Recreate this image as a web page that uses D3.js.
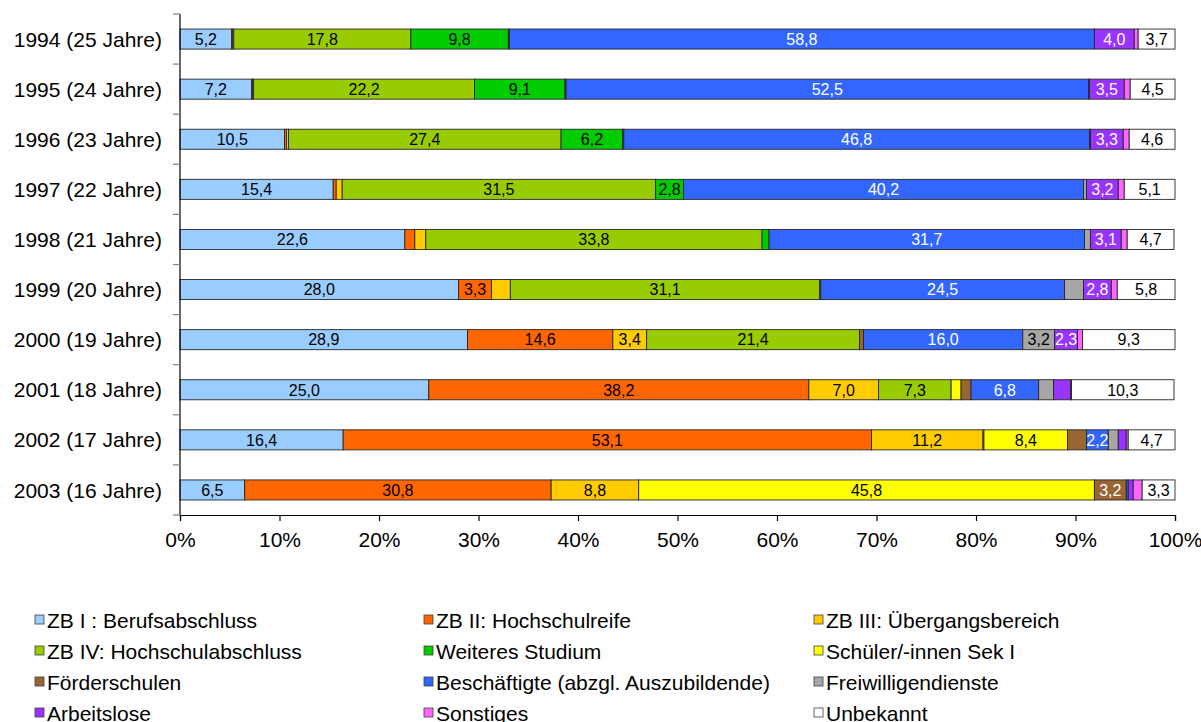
<!DOCTYPE html>
<html>
<head>
<meta charset="utf-8">
<script src="https://cdn.jsdelivr.net/npm/d3@7"></script>
<style>
  body { margin: 0; background: #fff; }
  text { font-family: "Liberation Sans", Arial, sans-serif; }
</style>
</head>
<body>
<script>
// Kategorien (Jahrgang)
var years = ["1994 (25 Jahre)", "1995 (24 Jahre)", "1996 (23 Jahre)", "1997 (22 Jahre)", "1998 (21 Jahre)",
             "1999 (20 Jahre)", "2000 (19 Jahre)", "2001 (18 Jahre)", "2002 (17 Jahre)", "2003 (16 Jahre)"];

// Anteile in % je Jahrgang
var zb1        = [5.2, 7.2, 10.5, 15.4, 22.6, 28.0, 28.9, 25.0, 16.4, 6.5];
var zb2        = [0.1, 0.1, 0.2, 0.3, 1.0, 3.3, 14.6, 38.2, 53.1, 30.8];
var zb3        = [0.1, 0.1, 0.2, 0.6, 1.1, 1.9, 3.4, 7.0, 11.2, 8.8];
var zb4        = [17.8, 22.2, 27.4, 31.5, 33.8, 31.1, 21.4, 7.3, 0.1, 0];
var studium    = [9.8, 9.1, 6.2, 2.8, 0.7, 0, 0, 0, 0, 0];
var sek1       = [0, 0, 0, 0, 0, 0, 0, 1.0, 8.4, 45.8];
var foerder    = [0.1, 0.1, 0.1, 0, 0, 0.1, 0.4, 1.0, 1.9, 3.2];
var besch      = [58.8, 52.5, 46.8, 40.2, 31.7, 24.5, 16.0, 6.8, 2.2, 0.2];
var freiw      = [0, 0.1, 0.1, 0.3, 0.6, 1.9, 3.2, 1.5, 1.0, 0];
var arbeitslos = [4.0, 3.5, 3.3, 3.2, 3.1, 2.8, 2.3, 1.7, 0.8, 0.5];
var sonst      = [0.4, 0.6, 0.6, 0.6, 0.6, 0.6, 0.5, 0.1, 0.2, 0.9];
var unbek      = [3.7, 4.5, 4.6, 5.1, 4.7, 5.8, 9.3, 10.3, 4.7, 3.3];

var seriesNames = ["ZB I : Berufsabschluss", "ZB II: Hochschulreife", "ZB III: Übergangsbereich",
                   "ZB IV: Hochschulabschluss", "Weiteres Studium", "Schüler/-innen Sek I",
                   "Förderschulen", "Beschäftigte (abzgl. Auszubildende)", "Freiwilligendienste",
                   "Arbeitslose", "Sonstiges", "Unbekannt"];
var seriesValues = [zb1, zb2, zb3, zb4, studium, sek1, foerder, besch, freiw, arbeitslos, sonst, unbek];
var colors = ["#99CCFF", "#FF6600", "#FFCC00", "#99CC00", "#00CC00", "#FFFF00",
              "#996633", "#3366FF", "#A6A6A6", "#9933FF", "#FF66FF", "#FFFFFF"];
var labelColors = ["#000", "#000", "#000", "#000", "#000", "#000",
                   "#fff", "#fff", "#000", "#fff", "#000", "#000"];

var xTicks = [0, 10, 20, 30, 40, 50, 60, 70, 80, 90, 100];

var svg = d3.select("body").append("svg").attr("width", 1201).attr("height", 722);

// Plotbereich
var plotLeft = 180, plotRight = 1175, plotTop = 14, plotBottom = 515;

var x = d3.scaleLinear().domain([0, 100]).range([plotLeft, plotRight]);
var y = d3.scaleBand().domain(years).range([plotTop, plotBottom]).paddingInner(0.6).paddingOuter(0.3);

// Tabelle für den Stapel
var table = years.map(function(yr, i) {
  var row = { year: yr };
  seriesNames.forEach(function(s, k) { row[s] = seriesValues[k][i]; });
  return row;
});
var stack = d3.stack().keys(seriesNames)(table);

var fmt = function(v) { return d3.format(".1f")(v).replace(".", ","); };

// Balken
stack.forEach(function(layer, k) {
  var g = svg.append("g");
  layer.forEach(function(d) {
    var v = d[1] - d[0];
    if (v <= 0) return;
    g.append("rect")
      .attr("x", x(d[0]))
      .attr("y", y(d.data.year))
      .attr("width", x(d[1]) - x(d[0]))
      .attr("height", y.bandwidth())
      .style("fill", colors[k])
      .style("stroke", "#262626")
      .style("stroke-width", 0.9);
  });
});

// Datenbeschriftungen
stack.forEach(function(layer, k) {
  layer.forEach(function(d) {
    var v = d[1] - d[0];
    if (v < 2.15) return;
    svg.append("text")
      .attr("x", (x(d[0]) + x(d[1])) / 2)
      .attr("y", y(d.data.year) + y.bandwidth() / 2)
      .attr("dy", "0.36em")
      .attr("text-anchor", "middle")
      .style("font-size", "16px")
      .style("fill", labelColors[k])
      .text(fmt(v));
  });
});

// Y-Achse
svg.append("line")
  .attr("x1", plotLeft).attr("x2", plotLeft).attr("y1", plotTop).attr("y2", plotBottom)
  .attr("stroke", "#000").attr("stroke-width", 1.2);
for (var i = 0; i <= years.length; i++) {
  var ty = plotTop + (plotBottom - plotTop) * i / years.length;
  svg.append("line")
    .attr("x1", plotLeft - 7).attr("x2", plotLeft).attr("y1", ty).attr("y2", ty)
    .attr("stroke", "#808080").attr("stroke-width", 1.2);
}
years.forEach(function(yr) {
  svg.append("text")
    .attr("x", 162)
    .attr("y", y(yr) + y.bandwidth() / 2)
    .attr("dy", "0.36em")
    .attr("text-anchor", "end")
    .style("font-size", "21px")
    .style("fill", "#000")
    .text(yr);
});

// X-Achse
var xAxis = svg.append("g")
  .attr("transform", "translate(0," + plotBottom + ")")
  .call(d3.axisBottom(x).tickValues(xTicks).tickSize(6).tickPadding(11)
    .tickFormat(function(d) { return d + "%"; }));
xAxis.select(".domain").attr("stroke", "#000").attr("stroke-width", 1.2);
xAxis.selectAll(".tick line").attr("stroke", "#000").attr("stroke-width", 1.2);
xAxis.selectAll(".tick text")
  .style("font-size", "21px")
  .style("font-family", "'Liberation Sans', Arial, sans-serif")
  .style("fill", "#000");

// Legende
var legendX = [35, 424, 814];
var legendY = [620, 651, 682, 713];
seriesNames.forEach(function(s, k) {
  var lx = legendX[k % 3], ly = legendY[Math.floor(k / 3)];
  svg.append("rect")
    .attr("x", lx).attr("y", ly - 5)
    .attr("width", 9).attr("height", 9)
    .style("fill", colors[k])
    .style("stroke", "#404040")
    .style("stroke-width", 0.8);
  svg.append("text")
    .attr("x", lx + 12)
    .attr("y", ly)
    .attr("dy", "0.36em")
    .style("font-size", "21px")
    .style("fill", "#000")
    .text(s);
});
</script>
</body>
</html>
